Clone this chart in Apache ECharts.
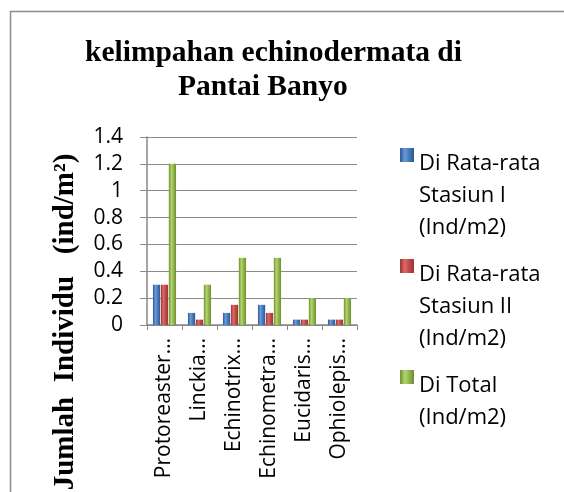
<!DOCTYPE html>
<html>
<head>
<meta charset="utf-8">
<script src="https://cdn.jsdelivr.net/npm/echarts@6/dist/echarts.min.js"></script>
<style>html,body{margin:0;padding:0;background:#fff;}#chart{width:564px;height:492px;}</style>
</head>
<body>
<div id="chart"></div>
<script>
const titleLines = ['kelimpahan echinodermata di', 'Pantai Banyo'];
const yAxisTitle = 'Jumlah  Individu   (ind/m\u00B2)';
const categories = ['Protoreaster\u2026', 'Linckia\u2026', 'Echinotrix\u2026', 'Echinometra\u2026', 'Eucidaris\u2026', 'Ophiolepis\u2026'];
const seriesNames = ['Di Rata-rata\nStasiun I\n(Ind/m2)', 'Di Rata-rata\nStasiun II\n(Ind/m2)', 'Di Total\n(Ind/m2)'];
const stasiun1 = [0.3, 0.09, 0.09, 0.15, 0.04, 0.04];
const stasiun2 = [0.3, 0.04, 0.15, 0.09, 0.04, 0.04];
const total = [1.2, 0.3, 0.5, 0.5, 0.2, 0.2];
const yTicks = { min: 0, max: 1.4, interval: 0.2 };

function grad(edge, mid, light) {
  return new echarts.graphic.LinearGradient(0, 0, 1, 0, [
    { offset: 0, color: edge },
    { offset: 0.35, color: light },
    { offset: 0.6, color: mid },
    { offset: 1, color: edge }
  ]);
}
const colors = [
  grad('#2c5896', '#4a7fc0', '#6c9ad6'),
  grad('#9a3533', '#c44d4a', '#dc6a66'),
  grad('#6f8f30', '#98bb52', '#b2d46e')
];
const values = [stasiun1, stasiun2, total];
const titleFont = {
  fontFamily: '"Liberation Serif", "Times New Roman", serif',
  fontWeight: 'bold',
  fontSize: 29.5,
  lineHeight: 34,
  color: '#000'
};
const titleLefts = [85, 178];

const chart = echarts.init(document.getElementById('chart'), null, { renderer: 'canvas' });
chart.setOption({
  backgroundColor: '#ffffff',
  animation: false,
  title: titleLines.map((t, i) => ({
    text: t,
    left: titleLefts[i],
    top: 36 + i * 34,
    padding: 0,
    textStyle: titleFont
  })),
  legend: {
    orient: 'vertical',
    left: 400,
    top: 148,
    padding: 0,
    itemGap: 15,
    itemWidth: 14,
    itemHeight: 96,
    icon: 'path://M0,0L14,0L14,14L0,14Z M0,96L14,96Z',
    itemStyle: { borderWidth: 0 },
    data: seriesNames,
    formatter: (name) => name.split('\n').length < 3 ? name + '\n\u00A0' : name,
    textStyle: {
      fontFamily: '"Open Sans", sans-serif',
      fontSize: 22,
      lineHeight: 32,
      color: '#000'
    }
  },
  grid: { left: 147, right: 207, top: 137, bottom: 167, containLabel: false },
  xAxis: {
    type: 'category',
    data: categories,
    axisLine: { lineStyle: { color: '#888', width: 1.5 } },
    axisTick: { show: true, length: 5, lineStyle: { color: '#888' } },
    axisLabel: {
      rotate: 90,
      margin: 13,
      fontFamily: '"Open Sans", sans-serif',
      fontSize: 21,
      color: '#000'
    }
  },
  yAxis: {
    type: 'value',
    min: yTicks.min,
    max: yTicks.max,
    interval: yTicks.interval,
    axisLine: { show: true, lineStyle: { color: '#888', width: 1.5 } },
    axisTick: { show: true, length: 7, lineStyle: { color: '#888' } },
    splitLine: { show: true, lineStyle: { color: '#8a8a8a', width: 1.2 } },
    axisLabel: {
      margin: 24,
      fontFamily: '"Open Sans", sans-serif',
      fontSize: 21,
      color: '#000'
    }
  },
  series: seriesNames.map((n, i) => ({
    name: n,
    type: 'bar',
    data: values[i],
    barGap: '10%',
    barCategoryGap: '34%',
    itemStyle: { color: colors[i] }
  })),
  graphic: [
    {
      type: 'rect',
      shape: { x: 10.5, y: 11.5, width: 700, height: 700 },
      style: { fill: 'none', stroke: '#8c8c8c', lineWidth: 1.5 },
      silent: true,
      z: -10
    },
    {
      type: 'text',
      x: 66,
      y: 322,
      rotation: Math.PI / 2,
      style: {
        text: yAxisTitle,
        font: 'bold 29px "Liberation Serif", "Times New Roman", serif',
        fill: '#000',
        textAlign: 'center',
        textVerticalAlign: 'middle'
      }
    }
  ]
});
</script>
</body>
</html>
